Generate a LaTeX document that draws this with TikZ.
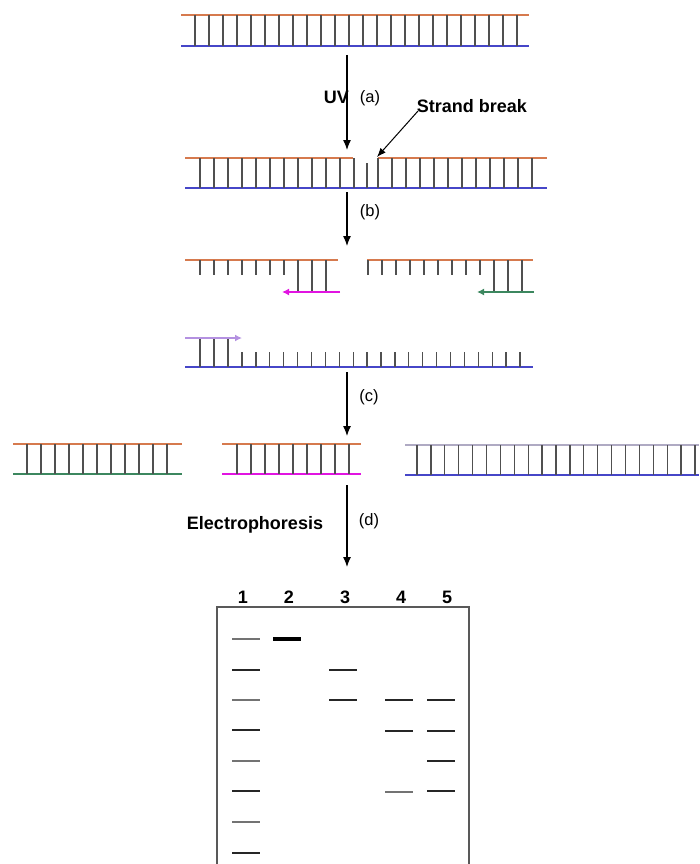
\documentclass[tikz,border=0pt]{standalone}
\usepackage{fontspec}
\setmainfont{Liberation Sans}
\usetikzlibrary{arrows.meta}

\definecolor{strandtop}{RGB}{214,122,78}
\definecolor{strandbot}{RGB}{70,70,200}
\definecolor{rungcol}{RGB}{80,80,80}
\definecolor{primermag}{RGB}{225,20,225}
\definecolor{primergrn}{RGB}{60,135,95}
\definecolor{primerlav}{RGB}{180,145,225}
\definecolor{fadedtop}{RGB}{175,170,195}

\begin{document}
\begin{tikzpicture}[x=1pt,y=-1pt,
    topstrand/.style={strandtop,line width=1.2pt},
    botstrand/.style={strandbot,line width=1.2pt},
    rungline/.style={rungcol,line width=1.3pt},
    stepline/.style={black,line width=1.2pt,-{Latex[length=10pt,width=8pt]}},
    primer/.style={line width=1.6pt,-{Latex[length=7pt,width=7pt]}},
    steplabel/.style={font=\fontsize{16.5}{19}\selectfont},
    boldlabel/.style={font=\fontsize{18}{21}\selectfont\bfseries},
    band/.style={black!85,line width=1.5pt},
    faintband/.style={black!55,line width=1.5pt}]
  \useasboundingbox (0,0) rectangle (699,864);

  % intact duplex
  \draw[topstrand] (181,15) -- (529,15);
  \draw[botstrand] (181,46) -- (529,46);
  \foreach \i in {0,...,23} \draw[rungline] (195+14*\i,15) -- (195+14*\i,46);

  % step (a)
  \coordinate (uvtop) at (347,55);
  \coordinate (uvtip) at (347,150);
  \draw[stepline] (uvtop) -- (uvtip);
  \node[boldlabel,anchor=east,inner sep=1pt] (uv) at (350,97) {UV};
  \node[steplabel] (stepa) at (370,98) {(a)};
  \node[boldlabel] (brk) at (472,106) {Strand break};
  \coordinate (brkfrom) at (418,111);
  \coordinate (brktip) at (377,157);
  \draw[black,line width=1pt,-{Latex[length=9pt,width=7pt]}] (brkfrom) -- (brktip);

  % duplex with the break
  \draw[topstrand] (185,158) -- (353,158);
  \draw[topstrand] (378,158) -- (547,158);
  \draw[botstrand] (185,188) -- (547,188);
  \foreach \i in {0,...,11} \draw[rungline] (200+14*\i,158) -- (200+14*\i,188);
  \draw[rungline] (367,163) -- (367,188);
  \foreach \i in {0,...,11} \draw[rungline] (378+14*\i,158) -- (378+14*\i,188);

  % step (b)
  \coordinate (btop) at (347,192);
  \coordinate (btip) at (347,246);
  \draw[stepline] (btop) -- (btip);
  \node[steplabel] (stepb) at (370,212) {(b)};

  % top fragments with primers
  \draw[topstrand] (185,260) -- (338,260);
  \foreach \i in {0,...,6} \draw[rungline] (200+14*\i,260) -- (200+14*\i,275);
  \foreach \i in {7,...,9} \draw[rungline] (200+14*\i,260) -- (200+14*\i,292);
  \coordinate (magfrom) at (340,292);
  \coordinate (magto) at (282,292);
  \draw[primer,primermag] (magfrom) -- (magto);

  \draw[topstrand] (367,260) -- (533,260);
  \foreach \i in {0,...,8} \draw[rungline] (368+14*\i,260) -- (368+14*\i,275);
  \foreach \i in {9,...,11} \draw[rungline] (368+14*\i,260) -- (368+14*\i,292);
  \coordinate (grnfrom) at (534,292);
  \coordinate (grnto) at (477,292);
  \draw[primer,primergrn] (grnfrom) -- (grnto);

  % bottom strand with primer
  \draw[botstrand] (185,367) -- (533,367);
  \foreach \i in {0,...,2} \draw[rungline] (200+14*\i,338) -- (200+14*\i,367);
  \foreach \i in {0,...,20} \draw[rungline] (242+13.9*\i,352) -- (242+13.9*\i,367);
  \coordinate (lavfrom) at (185,338);
  \coordinate (lavto) at (242,338);
  \draw[primer,primerlav] (lavfrom) -- (lavto);

  % step (c)
  \coordinate (ctop) at (347,372);
  \coordinate (ctip) at (347,436);
  \draw[stepline] (ctop) -- (ctip);
  \node[steplabel] (stepc) at (369,397) {(c)};

  % amplified products
  \draw[topstrand] (13,444) -- (182,444);
  \draw[primergrn,line width=1.2pt] (13,474) -- (182,474);
  \foreach \i in {0,...,10} \draw[rungline] (27+14*\i,444) -- (27+14*\i,474);

  \draw[topstrand] (222,444) -- (361,444);
  \draw[primermag,line width=1.2pt] (222,474) -- (361,474);
  \foreach \i in {0,...,8} \draw[rungline] (237+14*\i,444) -- (237+14*\i,474);

  \draw[fadedtop,line width=1.2pt] (405,445) -- (699,445);
  \draw[botstrand] (405,475) -- (699,475);
  \foreach \i in {0,...,20} \draw[rungline] (417+13.9*\i,445) -- (417+13.9*\i,475);

  % step (d)
  \coordinate (dtop) at (347,485);
  \coordinate (dtip) at (347,567);
  \draw[stepline] (dtop) -- (dtip);
  \node[steplabel] (stepd) at (369,521) {(d)};
  \node[boldlabel] (elec) at (255,525) {Electrophoresis};

  % gel
  \draw[black!65,line width=1.6pt] (217,866) -- (217,607) -- (469,607) -- (469,866);
  \node[boldlabel] (lane1) at (243,597) {1};
  \node[boldlabel] (lane2) at (289,597) {2};
  \node[boldlabel] (lane3) at (345,597) {3};
  \node[boldlabel] (lane4) at (401,597) {4};
  \node[boldlabel] (lane5) at (447,597) {5};

  \draw[faintband,line width=1.1pt] (232,639) -- (260,639);
  \foreach \y in {670,730,791,853} \draw[band] (232,\y) -- (260,\y);
  \foreach \y in {700,761,822} \draw[faintband] (232,\y) -- (260,\y);
  \draw[black,line width=4pt] (273,639) -- (301,639);
  \foreach \y in {670,700} \draw[band] (329,\y) -- (357,\y);
  \foreach \y in {700,731} \draw[band] (385,\y) -- (413,\y);
  \draw[faintband] (385,792) -- (413,792);
  \foreach \y in {700,731,761,791} \draw[band] (427,\y) -- (455,\y);
\end{tikzpicture}
\end{document}
